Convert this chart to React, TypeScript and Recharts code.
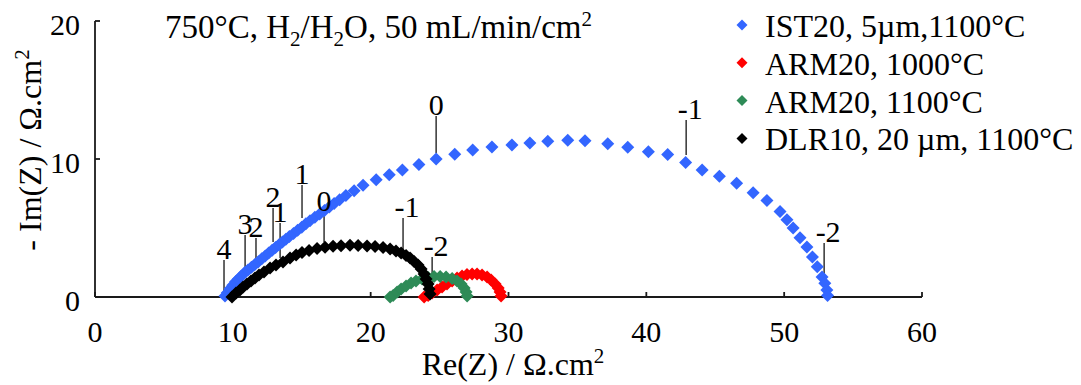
import { Legend, ReferenceLine, Scatter, ScatterChart, XAxis, YAxis } from "recharts";

const FONT = '"Liberation Serif", "Times New Roman", serif';
const AXIS_COLOR = "#1a1a1a";

// Nyquist spectra, [Re(Z), -Im(Z)] in Ω.cm²
const ist20: [number, number][] = [
  [9.43, 0.07], [9.6, 0.3], [9.8, 0.6], [10.0, 0.85], [10.2, 1.1], [10.4, 1.3],
  [10.6, 1.5], [10.85, 1.75], [11.1, 1.95], [11.35, 2.15], [11.6, 2.35],
  [11.85, 2.55], [12.1, 2.78], [12.35, 2.98], [12.6, 3.18], [12.85, 3.38],
  [13.1, 3.58], [13.35, 3.78], [13.6, 3.98], [13.85, 4.18], [14.1, 4.38],
  [14.4, 4.6], [14.7, 4.83], [15.0, 5.06], [15.3, 5.3], [15.6, 5.53],
  [15.95, 5.77], [16.3, 6.02], [16.65, 6.27], [17.0, 6.52], [17.35, 6.78],
  [17.75, 7.05], [18.2, 7.35], [18.8, 7.7], [19.45, 8.1], [20.4, 8.5],
  [21.35, 8.85], [22.3, 9.2], [23.5, 9.6], [24.75, 10.0], [26.1, 10.35],
  [27.4, 10.65], [28.8, 10.87], [30.25, 11.02], [31.55, 11.16], [32.85, 11.28],
  [34.3, 11.36], [35.55, 11.32], [37.2, 11.1], [38.65, 10.85], [40.15, 10.52],
  [41.55, 10.33], [42.85, 9.75], [44.05, 9.2], [45.3, 8.75], [46.55, 8.25],
  [47.75, 7.55], [48.75, 7.0], [49.7, 6.2], [50.2, 5.6], [50.65, 5.0],
  [51.15, 4.3], [51.65, 3.62], [52.05, 2.9], [52.4, 2.2], [52.75, 1.45],
  [52.95, 1.0], [53.1, 0.5], [53.15, 0.1],
];

const arm20At1000: [number, number][] = [
  [23.88, 0.0], [24.17, 0.1], [24.46, 0.29], [24.82, 0.51], [25.18, 0.72],
  [25.54, 0.94], [25.91, 1.16], [26.27, 1.38], [26.63, 1.52], [26.99, 1.63],
  [27.36, 1.67], [27.72, 1.67], [28.08, 1.59], [28.45, 1.45], [28.74, 1.23],
  [29.03, 0.94], [29.25, 0.65], [29.39, 0.36], [29.46, 0.07],
];

const arm20At1100: [number, number][] = [
  [21.41, 0.0], [21.63, 0.1], [21.92, 0.36], [22.21, 0.58], [22.57, 0.8],
  [22.93, 1.01], [23.29, 1.16], [23.73, 1.3], [24.17, 1.41], [24.6, 1.49],
  [25.04, 1.49], [25.47, 1.45], [25.91, 1.34], [26.27, 1.16], [26.56, 0.94],
  [26.78, 0.65], [26.92, 0.36], [27.0, 0.07],
];

const dlr10: [number, number][] = [
  [9.94, 0.0], [10.23, 0.29], [10.52, 0.51], [10.74, 0.72], [11.03, 0.94],
  [11.32, 1.16], [11.61, 1.38], [11.9, 1.59], [12.26, 1.81], [12.7, 2.1],
  [13.13, 2.32], [13.64, 2.54], [14.15, 2.83], [14.59, 3.04], [15.02, 3.22],
  [15.53, 3.37], [16.11, 3.51], [16.69, 3.61], [17.27, 3.67], [17.85, 3.72],
  [18.5, 3.75], [19.09, 3.73], [19.74, 3.7], [20.32, 3.66], [20.9, 3.59],
  [21.41, 3.48], [21.84, 3.33], [22.21, 3.19], [22.57, 3.01], [22.86, 2.83],
  [23.15, 2.57], [23.44, 2.32], [23.66, 2.03], [23.88, 1.67], [24.02, 1.3],
  [24.17, 0.94], [24.24, 0.58], [24.31, 0.22],
];

const SERIES = [
  { name: "IST20, 5µm,1100°C", color: "#3366ff", points: ist20 },
  { name: "ARM20, 1000°C", color: "#ff0000", points: arm20At1000 },
  { name: "ARM20, 1100°C", color: "#2e8b57", points: arm20At1100 },
  { name: "DLR10, 20 µm, 1100°C", color: "#000000", points: dlr10 },
];

// frequency decade markers: log10(f/Hz), Re(Z), stem base and stem tip
const decadeLabels = ["4", "3", "2", "2", "1", "1", "0", "0", "-1", "-2", "-1", "-2"];
const decadeRe = [9.36, 10.89, 11.68, 12.92, 13.43, 15.02, 16.62, 24.75, 22.35, 24.46, 42.89, 52.9];
const decadeBase = [0.29, 1.96, 2.1, 3.99, 2.83, 5.72, 3.99, 10.43, 3.41, 0.51, 10.29, 1.45];
const decadeTip = [2.68, 4.49, 4.28, 6.45, 5.36, 8.12, 6.16, 13.12, 5.72, 2.9, 12.83, 3.91];

const xTicks = [0, 10, 20, 30, 40, 50, 60];
const yTicks = [0, 10, 20];

const MARK = 6.5;

function Diamond(props: any) {
  const { cx, cy, fill } = props;
  if (cx == null || cy == null) return null;
  return (
    <polygon
      points={`${cx},${cy - MARK} ${cx + MARK},${cy} ${cx},${cy + MARK} ${cx - MARK},${cy}`}
      fill={fill}
    />
  );
}

function XTick(props: any) {
  const { x, y, payload } = props;
  return (
    <text x={x} y={y + 45} textAnchor="middle" fontSize={30} fontFamily={FONT} fill="#000">
      {payload.value}
    </text>
  );
}

function YTick(props: any) {
  const { x, y, payload } = props;
  return (
    <text x={x} y={y + 14} textAnchor="end" fontSize={30} fontFamily={FONT} fill="#000">
      {payload.value}
    </text>
  );
}

function LegendBox() {
  return (
    <svg width={351} height={160} style={{ display: "block" }}>
      {SERIES.map((s, i) => {
        const cy = 25 + i * 37.8;
        const m = 5.5;
        return (
          <g key={s.name}>
            <polygon
              points={`12,${cy - m} ${12 + m},${cy} 12,${cy + m} ${12 - m},${cy}`}
              fill={s.color}
            />
            <text x={35} y={cy + 12} fontSize={32} fontFamily={FONT} fill="#000">
              {s.name}
            </text>
          </g>
        );
      })}
    </svg>
  );
}

export default function App() {
  return (
    <div style={{ position: "relative", width: 1081, height: 385, background: "#fff" }}>
      <style>{"body{margin:0}"}</style>
      <ScatterChart
        width={1081}
        height={385}
        margin={{ top: 21, right: 159, bottom: 58, left: 35 }}
      >
        <XAxis
          type="number"
          dataKey="x"
          domain={[0, 60]}
          ticks={xTicks}
          height={30}
          tickSize={-5}
          tickMargin={5}
          tick={<XTick />}
          axisLine={{ stroke: AXIS_COLOR, strokeWidth: 1.8 }}
          tickLine={{ stroke: AXIS_COLOR, strokeWidth: 1.8 }}
          label={{
            content: () => (
              <text x={513} y={375} textAnchor="middle" fontSize={32} fontFamily={FONT} fill="#000">
                Re(Z) / Ω.cm
                <tspan dy={-12} fontSize={21}>2</tspan>
              </text>
            ),
          }}
        />
        <YAxis
          type="number"
          dataKey="y"
          domain={[0, 20]}
          ticks={yTicks}
          width={60}
          tickSize={-5}
          tickMargin={20}
          tick={<YTick />}
          axisLine={{ stroke: AXIS_COLOR, strokeWidth: 1.8 }}
          tickLine={{ stroke: AXIS_COLOR, strokeWidth: 1.8 }}
          label={{
            content: () => (
              <text
                transform="translate(41,150) rotate(-90)"
                textAnchor="middle"
                fontSize={32}
                fontFamily={FONT}
                fill="#000"
              >
                - Im(Z) /  Ω.cm
                <tspan dy={-12} fontSize={21}>2</tspan>
              </text>
            ),
          }}
        />
        {SERIES.map((s) => (
          <Scatter
            key={s.name}
            name={s.name}
            data={s.points.map(([x, y]) => ({ x, y }))}
            fill={s.color}
            shape={Diamond}
            isAnimationActive={false}
          />
        ))}
        {decadeLabels.map((label, i) => (
          <ReferenceLine
            key={`dec-${i}`}
            segment={[
              { x: decadeRe[i], y: decadeBase[i] },
              { x: decadeRe[i], y: decadeTip[i] },
            ]}
            stroke="#333"
            strokeWidth={1.5}
            label={{
              value: label,
              position: "top",
              offset: 1,
              fontSize: 30,
              fontFamily: FONT,
              fill: "#000",
              dx: label.startsWith("-") ? 4 : 0,
            }}
          />
        ))}
        <Legend
          layout="vertical"
          align="center"
          verticalAlign="middle"
          wrapperStyle={{ left: 730, top: 0, width: 351, height: 160 }}
          content={LegendBox}
        />
      </ScatterChart>
      <svg
        width={1081}
        height={60}
        style={{ position: "absolute", left: 0, top: 0, pointerEvents: "none" }}
      >
        <text x={165} y={38} fontSize={33} fontFamily={FONT} fill="#000">
          750°C, H<tspan dy={8} fontSize={21}>2</tspan>
          <tspan dy={-8}>/H</tspan>
          <tspan dy={8} fontSize={21}>2</tspan>
          <tspan dy={-8}>O, 50 mL/min/cm</tspan>
          <tspan dy={-12} fontSize={21}>2</tspan>
        </text>
      </svg>
    </div>
  );
}
